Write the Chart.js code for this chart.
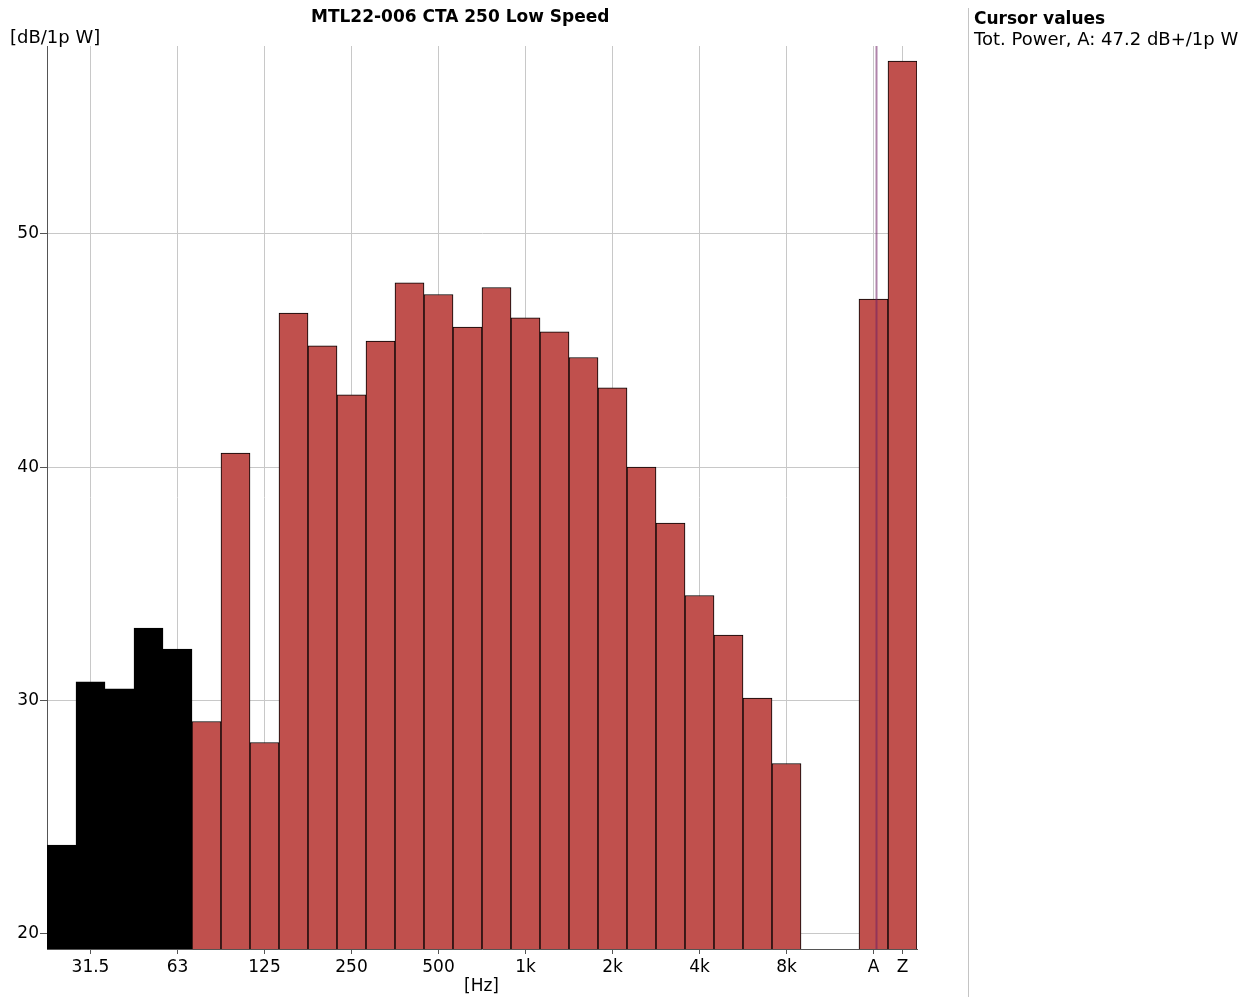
<!DOCTYPE html>
<html>
<head>
<meta charset="utf-8">
<script src="https://cdn.jsdelivr.net/npm/chart.js@4"></script>
<style>
  body { margin: 0; background: #fff; font-family: "DejaVu Sans", Verdana, sans-serif; }
  #wrap { position: relative; width: 1254px; height: 997px; }
  #box { position: absolute; left: 0; top: 0; width: 1254px; height: 997px; }
  .txt { position: absolute; white-space: nowrap; color: #000; font-size: 18px; line-height: 1; }
  #title { left: 311px; top: 8px; font-weight: bold; font-size: 17px; }
  #yunit { left: 10px; top: 28px; }
  #xunit { left: 464px; top: 977px; font-size: 17px; }
  #sep { position: absolute; left: 968px; top: 8px; width: 1px; height: 989px; background: #c4c4c4; }
  #cur1 { left: 974px; top: 10px; font-weight: bold; font-size: 17px; }
  #cur2 { left: 974px; top: 30px; }
</style>
</head>
<body>
<div id="wrap">
  <div id="box"><canvas id="chart"></canvas></div>
  <div class="txt" id="title">MTL22-006 CTA 250 Low Speed</div>
  <div class="txt" id="yunit">[dB/1p W]</div>
  <div class="txt" id="xunit">[Hz]</div>
  <div id="sep"></div>
  <div class="txt" id="cur1">Cursor values</div>
  <div class="txt" id="cur2">Tot. Power, A: 47.2 dB+/1p W</div>
</div>
<script>
// Bandas de tercio de octava + totales A y Z
const bandas = ['25', '31.5', '40', '50', '63', '80', '100', '125', '160', '200', '250', '315', '400', '500', '630',
  '800', '1k', '1.25k', '1.6k', '2k', '2.5k', '3.15k', '4k', '5k', '6.3k', '8k', '10k', '', 'A', 'Z'];
const niveles = [23.8, 30.8, 30.5, 33.1, 32.2, 29.1, 40.6, 28.2, 46.6, 45.2, 43.1, 45.4, 47.9, 47.4, 46.0,
  47.7, 46.4, 45.8, 44.7, 43.4, 40.0, 37.6, 34.5, 32.8, 30.1, 27.3, null, null, 47.2, 57.4];
const etiquetasX = ['31.5', '63', '125', '250', '500', '1k', '2k', '4k', '8k', 'A', 'Z'];
const ticksY = [20, 30, 40, 50];
const nBandasNegras = 5;   // 25 .. 63 Hz en negro
const cursor = 'A';

const rojo = '#C0504D';
const colores = bandas.map((b, i) => i < nBandasNegras ? '#000000' : rojo);
const visible = (i) => etiquetasX.includes(bandas[i]);

// Linea de cursor sobre la banda A
const cursorPlugin = {
  id: 'cursorLine',
  afterDatasetsDraw(chart) {
    const { ctx, chartArea, scales } = chart;
    const x = Math.round(scales.x.getPixelForValue(bandas.indexOf(cursor))) + 2.5;
    ctx.save();
    ctx.strokeStyle = 'rgba(110, 30, 100, 0.55)';
    ctx.lineWidth = 2;
    ctx.beginPath();
    ctx.moveTo(x, chartArea.top);
    ctx.lineTo(x, chartArea.bottom);
    ctx.stroke();
    ctx.restore();
  }
};

const fuente = { family: '"DejaVu Sans", Verdana, sans-serif', size: 17 };

new Chart(document.getElementById('chart'), {
  type: 'bar',
  data: {
    labels: bandas,
    datasets: [{
      data: niveles,
      backgroundColor: colores,
      borderColor: '#000000',
      borderWidth: 1,
      categoryPercentage: 1,
      barPercentage: 1
    }]
  },
  options: {
    responsive: true,
    maintainAspectRatio: false,
    animation: false,
    layout: { padding: { left: 0, top: 46, right: 337, bottom: 0 } },
    plugins: { legend: { display: false }, tooltip: { enabled: false }, title: { display: false } },
    scales: {
      x: {
        offset: true,
        afterFit: (s) => { s.height = 48; },
        border: { color: '#555555', width: 1 },
        grid: {
          offset: false,
          drawOnChartArea: true,
          tickLength: 5,
          color: (c) => visible(c.index) ? '#c8c8c8' : 'rgba(0,0,0,0)',
          tickColor: (c) => visible(c.index) ? '#555555' : 'rgba(0,0,0,0)'
        },
        ticks: {
          autoSkip: false,
          maxRotation: 0,
          color: '#000',
          font: fuente,
          padding: 3,
          callback: (v, i) => visible(i) ? bandas[i] : ''
        }
      },
      y: {
        min: 19.35,
        max: 58.05,
        afterFit: (s) => { s.width = 47; },
        afterBuildTicks: (s) => { s.ticks = ticksY.map(v => ({ value: v })); },
        border: { color: '#555555', width: 1 },
        grid: { color: '#c8c8c8', tickColor: '#555555', tickLength: 7 },
        ticks: { color: '#000', font: fuente, padding: 1 }
      }
    }
  },
  plugins: [cursorPlugin]
});
</script>
</body>
</html>
